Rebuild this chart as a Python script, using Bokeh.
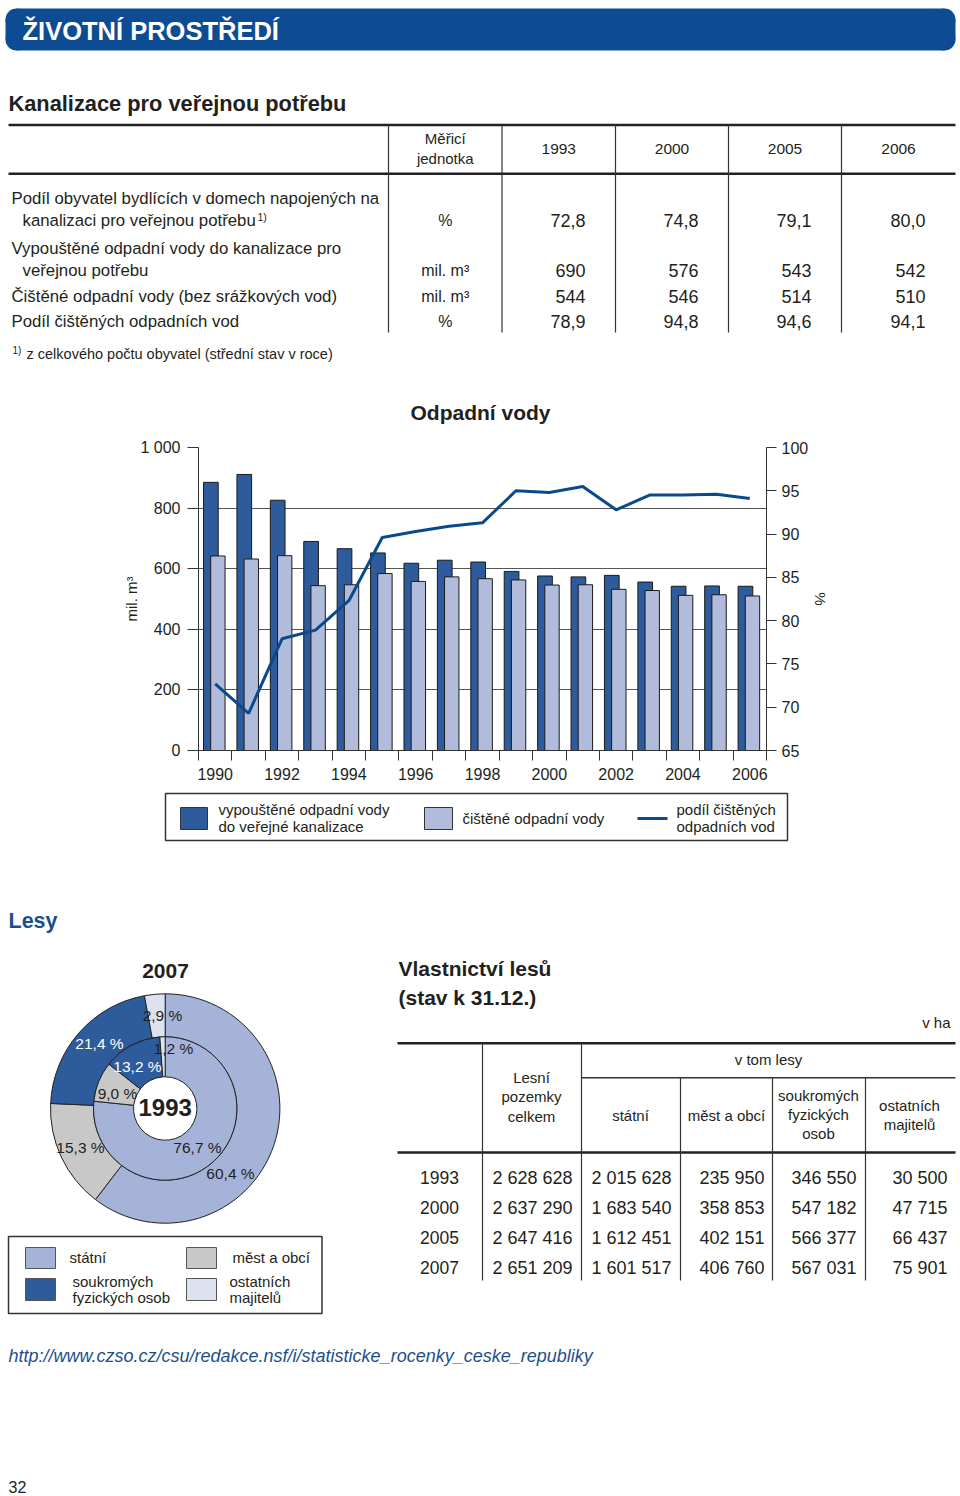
import math
from bokeh.plotting import figure
from bokeh.models import Range1d, LinearAxis, FixedTicker, ColumnDataSource
from bokeh.embed import file_html
from bokeh.resources import INLINE
from bokeh.core.properties import value
from bokeh.transform import dodge

# ---------------- data ----------------
# Table 1: Kanalizace pro veřejnou potřebu
t1_years = ["1993", "2000", "2005", "2006"]
t1_labels = [
    ["Podíl obyvatel bydlících v domech  napojených na", "kanalizaci pro  veřejnou potřebu"],
    ["Vypouštěné odpadní vody do  kanalizace pro", "veřejnou potřebu"],
    ["Čištěné odpadní vody  (bez srážkových vod)"],
    ["Podíl čištěných odpadních vod"],
]
t1_units = ["%", "mil. m³", "mil. m³", "%"]
t1_values = [
    ["72,8", "74,8", "79,1", "80,0"],
    ["690", "576", "543", "542"],
    ["544", "546", "514", "510"],
    ["78,9", "94,8", "94,6", "94,1"],
]

# Chart: Odpadní vody
years = list(range(1990, 2007))
discharged = [885, 911, 826, 690, 666, 652, 618, 628, 622, 591, 576, 573, 578, 556, 542, 543, 542]
treated = [642, 632, 643, 544, 547, 584, 558, 573, 567, 563, 546, 547, 532, 528, 512, 514, 510]
share_treated = [72.7, 69.3, 77.9, 78.9, 82.3, 89.6, 90.3, 90.9, 91.3, 95.0, 94.8, 95.5, 92.8, 94.5, 94.5, 94.6, 94.1]
left_ticks = [0, 200, 400, 600, 800, 1000]
right_ticks = [65, 70, 75, 80, 85, 90, 95, 100]
year_labels = [1990, 1992, 1994, 1996, 1998, 2000, 2002, 2004, 2006]

# Lesy: ownership shares (%)
owners = ["státní", "měst a obcí", "soukromých fyzických osob", "ostatních majitelů"]
share_1993 = [76.7, 9.0, 13.2, 1.2]
share_2007 = [60.4, 15.3, 21.4, 2.9]

# Table 2: Vlastnictví lesů (ha)
t2_years = ["1993", "2000", "2005", "2007"]
t2_total = [2628628, 2637290, 2647416, 2651209]
t2_state = [2015628, 1683540, 1612451, 1601517]
t2_towns = [235950, 358853, 402151, 406760]
t2_private = [346550, 547182, 566377, 567031]
t2_other = [30500, 47715, 66437, 75901]

# ---------------- styles ----------------
FONT = "Liberation Sans"
INK = "#231f20"
BAND = "#0D4C92"
DARK = "#2D5B9C"
LIGHT = "#B1BCDC"
LINE = "#0B4A8A"
STATE = "#A6B3D8"
TOWN = "#C8C8C8"
PRIV = "#2D5B9C"
OTHER = "#DDE2F0"
BLUE_TXT = "#1B4F8C"
W = 960


def canvas(top, bottom):
    p = figure(width=W, height=bottom - top, x_range=Range1d(0, W), y_range=Range1d(-bottom, -top),
               output_backend="svg", toolbar_location=None, min_border=0,
               x_axis_location=None, y_axis_location=None)
    p.grid.visible = False
    p.outline_line_color = None
    return p


def txt(p, x, y, s, size=16, align="left", style="normal", color=INK):
    p.text(x=[x], y=[-y], text=[s], text_font=value(FONT), text_font_size=f"{size}px",
           text_align=align, text_baseline="middle", text_color=color, text_font_style=style)


def hline(p, x0, x1, y, w=1.5, c="#333333"):
    p.segment(x0=[x0], y0=[-y], x1=[x1], y1=[-y], line_color=c, line_width=w)


def vline(p, x, y0, y1, w=1.2, c="#333333"):
    p.segment(x0=[x], y0=[-y0], x1=[x], y1=[-y1], line_color=c, line_width=w)


def box(p, x0, y0, x1, y1, fill=None, line="#333333", w=1.0):
    p.quad(left=[x0], right=[x1], top=[-y0], bottom=[-y1], fill_color=fill,
           fill_alpha=1 if fill else 0, line_color=line, line_width=w)


# ---------------- figure 1: header + table 1 ----------------
p1 = canvas(0, 425)
r = 11
p1.quad(left=[5 + r], right=[955 - r], top=[-8], bottom=[-50], fill_color=BAND, line_color=None)
p1.quad(left=[5], right=[955], top=[-8 - r], bottom=[-50 + r], fill_color=BAND, line_color=None)
p1.circle(x=[5 + r, 5 + r, 955 - r, 955 - r], y=[-8 - r, -50 + r, -8 - r, -50 + r], radius=r,
          fill_color=BAND, line_color=None)
txt(p1, 22, 30, "ŽIVOTNÍ PROSTŘEDÍ", 25.5, style="bold", color="white")
txt(p1, 8, 103, "Kanalizace pro veřejnou potřebu", 21.8, style="bold")

hline(p1, 8, 955, 124.5, 2.5, "#222")
hline(p1, 8, 955, 173.3, 2.5, "#222")
col_edges = [388, 501.5, 615, 728, 841, 955]
for xe in col_edges[:-1]:
    vline(p1, xe, 124.5, 332)
unit_cx = (col_edges[0] + col_edges[1]) / 2
txt(p1, unit_cx, 138, "Měřicí", 15, "center")
txt(p1, unit_cx, 158, "jednotka", 15, "center")
for i, yr in enumerate(t1_years):
    cx = (col_edges[i + 1] + col_edges[i + 2]) / 2
    txt(p1, cx, 148, yr, 15.5, "center")

row_y = [[198, 220], [248, 270], [296], [321]]
for i, lines in enumerate(t1_labels):
    for j, line in enumerate(lines):
        txt(p1, 11 if j == 0 else 22, row_y[i][j], line, 16.8)
    yv = row_y[i][-1]
    txt(p1, unit_cx, yv, t1_units[i], 16, "center")
    for k, v in enumerate(t1_values[i]):
        txt(p1, col_edges[k + 2] - 30, yv, v, 18, "right")
txt(p1, 257, 216, "1)", 10.5)
txt(p1, 12, 350, "1)", 10)
txt(p1, 26, 353, "z celkového počtu obyvatel (střední stav v roce)", 14.5)

txt(p1, 480, 412, "Odpadní vody", 21, "center", "bold")

# ---------------- figure 2: bar chart ----------------
src = ColumnDataSource(dict(year=years, discharged=discharged, treated=treated, share=share_treated))
p2 = figure(width=W, height=365, x_range=Range1d(1989.5, 2006.5), y_range=Range1d(0, 1000),
            output_backend="svg", toolbar_location=None,
            min_border_left=198, min_border_right=194, min_border_top=22, min_border_bottom=40)
p2.outline_line_color = None
p2.xgrid.visible = False
p2.ygrid.grid_line_color = "#555555"
p2.ygrid.grid_line_width = 1

p2.vbar(x=dodge("year", -0.13), top="discharged", width=0.44, source=src,
        fill_color=DARK, line_color="#1a1a1a", line_width=1)
p2.vbar(x=dodge("year", 0.08), top="treated", width=0.43, source=src,
        fill_color=LIGHT, line_color="#1a1a1a", line_width=1)
p2.extra_y_ranges = {"pct": Range1d(65, 100)}
p2.line("year", "share", source=src, y_range_name="pct", line_color=LINE, line_width=3)

xa = p2.xaxis[0]
xa.ticker = FixedTicker(ticks=year_labels, minor_ticks=[y - 0.5 for y in years] + [years[-1] + 0.5])
xa.major_tick_out = 0
xa.major_tick_in = 0
xa.minor_tick_out = 10
xa.minor_tick_in = 0
xa.minor_tick_line_color = "#333333"
xa.major_label_standoff = 7
ya = p2.yaxis[0]
ya.ticker = FixedTicker(ticks=left_ticks)
ya.major_label_overrides = {1000: "1 000"}
ya.major_tick_out = 11
ya.major_tick_in = 0
ya.minor_tick_out = 0
ya.minor_tick_in = 0
ya.major_label_standoff = 7
ya.axis_label = "mil. m³"
ya.axis_label_standoff = -3
ra = LinearAxis(y_range_name="pct", ticker=FixedTicker(ticks=right_ticks), axis_label="%")
ra.major_tick_out = 10
ra.major_tick_in = 0
ra.minor_tick_out = 0
ra.minor_tick_in = 0
ra.major_label_standoff = 5
ra.axis_label_standoff = 1
p2.add_layout(ra, "right")
for ax in [xa, ya, ra]:
    ax.axis_line_color = "#333333"
    ax.major_tick_line_color = "#333333"
    ax.major_label_text_font = FONT
    ax.major_label_text_font_size = "16px"
    ax.major_label_text_color = INK
    ax.axis_label_text_font = FONT
    ax.axis_label_text_font_size = "15px"
    ax.axis_label_text_font_style = "normal"
    ax.axis_label_text_color = INK

# ---------------- figure 3: legend + Lesy ----------------
p3 = canvas(790, 1494)
# chart legend
box(p3, 165, 793, 787, 840, None, "#333", 1.5)
box(p3, 180, 807, 207, 829, DARK, "#333", 1)
txt(p3, 218, 809, "vypouštěné odpadní vody", 15)
txt(p3, 218, 826, "do veřejné kanalizace", 15)
box(p3, 424, 807, 452, 829, LIGHT, "#333", 1)
txt(p3, 462, 818, "čištěné odpadní vody", 15)
p3.segment(x0=[637], y0=[-818], x1=[667], y1=[-818], line_color=LINE, line_width=3)
txt(p3, 676, 809, "podíl čištěných", 15)
txt(p3, 676, 826, "odpadních vod", 15)

txt(p3, 8, 920, "Lesy", 21.5, style="bold", color=BLUE_TXT)
txt(p3, 165, 970, "2007", 21, "center", "bold")

# donut
cx, cy = 164.7, -1108
pie_cols = [STATE, TOWN, PRIV, OTHER]


def ring(shares, r_in, r_out):
    tot = sum(shares)
    cum = [0]
    for s in shares:
        cum.append(cum[-1] + s)
    st = [math.pi / 2 - 2 * math.pi * cum[i] / tot for i in range(len(shares))]
    en = [math.pi / 2 - 2 * math.pi * cum[i + 1] / tot for i in range(len(shares))]
    p3.annular_wedge(x=[cx] * len(shares), y=[cy] * len(shares), inner_radius=r_in, outer_radius=r_out,
                     start_angle=st, end_angle=en, direction="clock", fill_color=pie_cols,
                     line_color="#222222", line_width=1)


ring(share_2007, 71.7, 114.7)
ring(share_1993, 31.7, 71.7)
txt(p3, cx, 1107, "1993", 24, "center", "bold")


def pct(v):
    return f"{v:.1f}".replace(".", ",") + " %"


lbl_pos_2007 = [(230, 1173), (80, 1147), (99, 1043), (162, 1015)]
lbl_pos_1993 = [(197, 1147), (117, 1093), (137, 1066), (173, 1048)]
for vals, poss in [(share_2007, lbl_pos_2007), (share_1993, lbl_pos_1993)]:
    for k, (v, (lx, ly)) in enumerate(zip(vals, poss)):
        txt(p3, lx, ly, pct(v), 15.5, "center", color="white" if k == 2 else INK)

# pie legend
box(p3, 8, 1236, 321.5, 1313, None, "#333", 1.5)
box(p3, 25, 1247, 55, 1268, STATE, "#555", 1)
txt(p3, 69, 1257, "státní", 15)
box(p3, 186, 1247, 216, 1268, TOWN, "#555", 1)
txt(p3, 232, 1257, "měst a obcí", 15)
box(p3, 25, 1278, 55, 1300, PRIV, "#555", 1)
txt(p3, 72, 1281, "soukromých", 15)
txt(p3, 72, 1297, "fyzických osob", 15)
box(p3, 186, 1278, 216, 1300, OTHER, "#555", 1)
txt(p3, 229, 1281, "ostatních", 15)
txt(p3, 229, 1297, "majitelů", 15)

# table 2
txt(p3, 398, 968, "Vlastnictví lesů", 21, style="bold")
txt(p3, 398, 997, "(stav k 31.12.)", 21, style="bold")
txt(p3, 950, 1022, "v ha", 15, "right")
hline(p3, 397, 955, 1042.7, 2.5, "#222")
hline(p3, 581, 955, 1077.3, 1.5, "#333")
hline(p3, 397, 955, 1152, 2.5, "#222")
vline(p3, 482, 1042.7, 1280)
vline(p3, 581, 1042.7, 1280)
for xe in [680, 772, 865]:
    vline(p3, xe, 1077.3, 1280)
txt(p3, 768, 1059, "v tom lesy", 15, "center")
for s, yy in zip(["Lesní", "pozemky", "celkem"], [1077, 1096, 1116]):
    txt(p3, 531, yy, s, 15, "center")
txt(p3, 630, 1115, "státní", 15, "center")
txt(p3, 726, 1115, "měst a obcí", 15, "center")
for s, yy in zip(["soukromých", "fyzických", "osob"], [1095, 1114, 1133]):
    txt(p3, 818, yy, s, 15, "center")
for s, yy in zip(["ostatních", "majitelů"], [1105, 1124]):
    txt(p3, 909, yy, s, 15, "center")


def fmt(n):
    return f"{n:,}".replace(",", " ")


t2_cols = [t2_total, t2_state, t2_towns, t2_private, t2_other]
t2_right = [572, 671, 764, 856, 947]
t2_row_y = [1177, 1207, 1237, 1267]
for i, yr in enumerate(t2_years):
    txt(p3, 439, t2_row_y[i], yr, 17.5, "center")
    for col, xr in zip(t2_cols, t2_right):
        txt(p3, xr, t2_row_y[i], fmt(col[i]), 18, "right")

txt(p3, 8, 1355, "http://www.czso.cz/csu/redakce.nsf/i/statisticke_rocenky_ceske_republiky", 18,
    style="italic", color=BLUE_TXT)
txt(p3, 8, 1486, "32", 16)

open("out.html", "w").write(file_html([p1, p2, p3], INLINE))
